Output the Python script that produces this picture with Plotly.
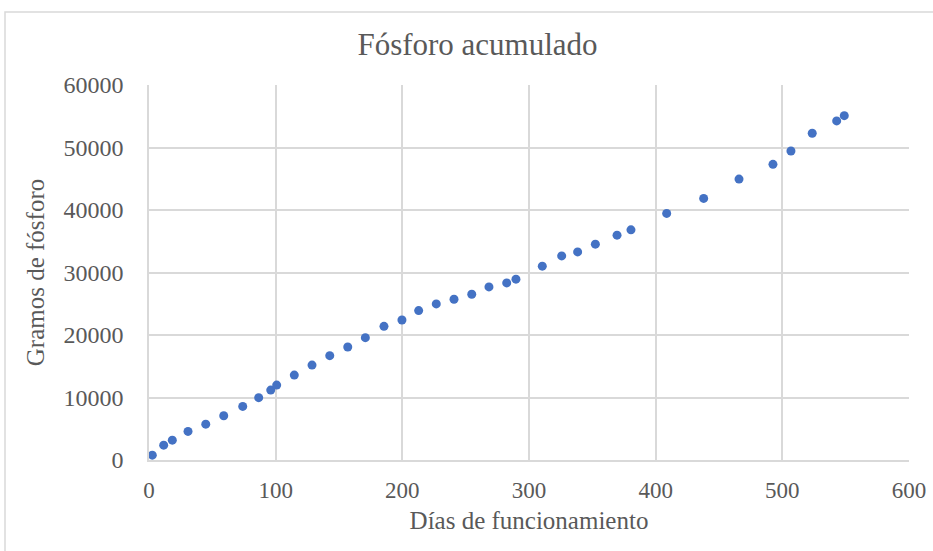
import plotly.graph_objects as go

dias = [2.6, 11.6, 18.4, 30.8, 44.8, 59.0, 74.0, 86.6, 96.1, 100.8,
        114.7, 128.7, 142.7, 156.9, 170.8, 185.5, 199.7, 212.9, 226.8, 240.8,
        254.8, 268.4, 282.4, 289.7, 310.5, 325.8, 338.4, 352.4, 369.5, 380.5,
        408.7, 437.9, 465.8, 492.6, 506.8, 523.6, 542.9, 548.9]
gramos = [770, 2370, 3170, 4570, 5740, 7080, 8570, 9970, 11190, 11990,
          13590, 15190, 16700, 18080, 19580, 21390, 22400, 23910, 24970, 25720,
          26520, 27690, 28330, 28930, 31010, 32660, 33300, 34540, 35980, 36830,
          39450, 41860, 44950, 47310, 49440, 52280, 54250, 55100]

x_ticks = [0, 100, 200, 300, 400, 500, 600]
y_ticks = [0, 10000, 20000, 30000, 40000, 50000, 60000]

TXT = "#595959"
GRID = "#d9d9d9"
FONT = "Liberation Serif"

fig = go.Figure()
fig.add_trace(go.Scatter(
    x=dias, y=gramos, mode="markers",
    marker=dict(color="#4472C4", size=9),
    showlegend=False, hoverinfo="x+y",
))

W, H = 933, 551
ml, mr, mt, mb = 149, 24, 85, 91
pw, ph = W - ml - mr, H - mt - mb

def px(xp):
    return (xp - ml) / pw

def py(yp):
    return (H - mb - yp) / ph

fig.update_layout(
    width=W, height=H,
    margin=dict(l=ml, r=mr, t=mt, b=mb, autoexpand=False),
    paper_bgcolor="white", plot_bgcolor="white",
    font=dict(family=FONT, color=TXT),
    title=dict(text="Fósforo acumulado", x=477.5 / W, xref="container", xanchor="center",
               y=1 - 44 / H, yref="container", yanchor="middle",
               font=dict(family=FONT, size=31, color=TXT)),
    xaxis=dict(range=[0, 600], tickvals=x_ticks, tickformat="d", showgrid=True,
               gridcolor=GRID, gridwidth=1.5, zeroline=False, showline=True,
               linecolor=GRID, linewidth=1.5, ticks="outside", ticklen=9,
               tickcolor="rgba(0,0,0,0)",
               tickfont=dict(family=FONT, size=23, color=TXT),
               title=dict(text="Días de funcionamiento", standoff=9,
                          font=dict(family=FONT, size=25, color=TXT))),
    yaxis=dict(range=[0, 60000], tickvals=y_ticks, tickformat="d", showgrid=True,
               gridcolor=GRID, gridwidth=1.5, zeroline=False, showline=True,
               linecolor=GRID, linewidth=1.5, ticks="outside", ticklen=19,
               tickcolor="rgba(0,0,0,0)",
               tickfont=dict(family=FONT, size=24, color=TXT),
               title=dict(text="Gramos de fósforo", standoff=12,
                          font=dict(family=FONT, size=25, color=TXT))),
    shapes=[dict(type="path", xref="paper", yref="paper",
                 path=f"M {px(5)},{py(H + 5)} L {px(5)},{py(12)} L {px(W + 5)},{py(12)}",
                 line=dict(color=GRID, width=1.5))],
)

fig.write_html("out.html", config={"displayModeBar": False},
               post_script="document.body.style.margin='0';document.body.style.padding='0';")
